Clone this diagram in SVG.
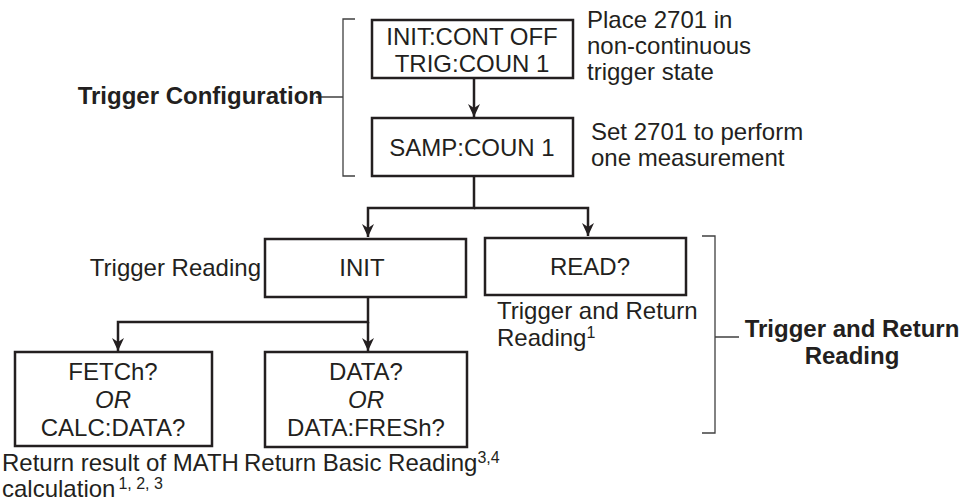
<svg xmlns="http://www.w3.org/2000/svg" width="970" height="502" viewBox="0 0 970 502">
<defs>
<marker id="ah" markerUnits="userSpaceOnUse" markerWidth="14" markerHeight="14" refX="13" refY="6" orient="auto">
<path d="M0,0 L13,6 L0,12 L4,6 Z" fill="#231f20"/>
</marker>
<style>
.box{fill:#fff;stroke:#231f20;stroke-width:2.5}
.t{font-family:"Liberation Sans",Arial,sans-serif;font-size:24px;fill:#231f20}
.c{text-anchor:middle}
.b{font-weight:bold}
.i{font-style:italic}
.sup{font-size:16px}
.con{fill:none;stroke:#231f20;stroke-width:2.5}
.br{fill:none;stroke:#404040;stroke-width:1.3}
</style>
</defs>
<rect width="970" height="502" fill="#fff"/>
<g id="brackets">
<path class="br" d="M355,19 H343 V176 H355 M343,97 H316"/>
<path class="br" d="M702,236 H715 V433 H702 M715,337 H739"/>
</g>
<g id="connectors">
<path class="con" d="M474,78 V117" marker-end="url(#ah)"/>
<path class="con" d="M474,176 V208 H368 V237" marker-end="url(#ah)"/>
<path class="con" d="M474,208 H588 V236" marker-end="url(#ah)"/>
<path class="con" d="M368,297 V322 H118 V351" marker-end="url(#ah)"/>
<path class="con" d="M368,322 V351" marker-end="url(#ah)"/>
</g>
<g id="label-config"><text class="t b" x="323" y="104" text-anchor="end">Trigger Configuration</text></g>
<g id="node-init-cont">
<rect class="box" x="372" y="20" width="201" height="58"/>
<text class="t c" x="472" y="45">INIT:CONT OFF</text>
<text class="t c" x="472" y="72">TRIG:COUN 1</text>
</g>
<g id="note-init-cont">
<text class="t" x="587" y="28">Place 2701 in</text>
<text class="t" x="587" y="54">non-continuous</text>
<text class="t" x="587" y="80">trigger state</text>
</g>
<g id="node-samp">
<rect class="box" x="372" y="118" width="201" height="58"/>
<text class="t c" x="472" y="156">SAMP:COUN 1</text>
</g>
<g id="note-samp">
<text class="t" x="591" y="140">Set 2701 to perform</text>
<text class="t" x="591" y="166">one measurement</text>
</g>
<g id="node-init">
<rect class="box" x="265" y="239" width="201" height="58"/>
<text class="t c" x="362" y="276">INIT</text>
<text class="t" x="261" y="276" text-anchor="end">Trigger Reading</text>
</g>
<g id="node-read">
<rect class="box" x="485" y="238" width="201" height="57"/>
<text class="t c" x="590" y="275">READ?</text>
<text class="t" x="497" y="319">Trigger and Return</text>
<text class="t" x="497" y="346">Reading<tspan class="sup" dy="-8">1</tspan></text>
</g>
<g id="label-trigret">
<text class="t b c" x="852" y="337">Trigger and Return</text>
<text class="t b c" x="852" y="364">Reading</text>
</g>
<g id="node-fetch">
<rect class="box" x="15" y="352" width="197" height="94"/>
<text class="t c" x="113" y="380">FETCh?</text>
<text class="t c i" x="113" y="408">OR</text>
<text class="t c" x="113" y="436">CALC:DATA?</text>
<text class="t" x="2" y="471" font-size="23.7">Return result of MATH</text>
<text class="t" x="2" y="497">calculation<tspan class="sup" dx="3" dy="-8">1, 2, 3</tspan></text>
</g>
<g id="node-data">
<rect class="box" x="265" y="352" width="202" height="95"/>
<text class="t c" x="366" y="380">DATA?</text>
<text class="t c i" x="366" y="408">OR</text>
<text class="t c" x="366" y="436">DATA:FRESh?</text>
<text class="t" x="244" y="471">Return Basic Reading<tspan class="sup" dy="-8">3,4</tspan></text>
</g>
</svg>
